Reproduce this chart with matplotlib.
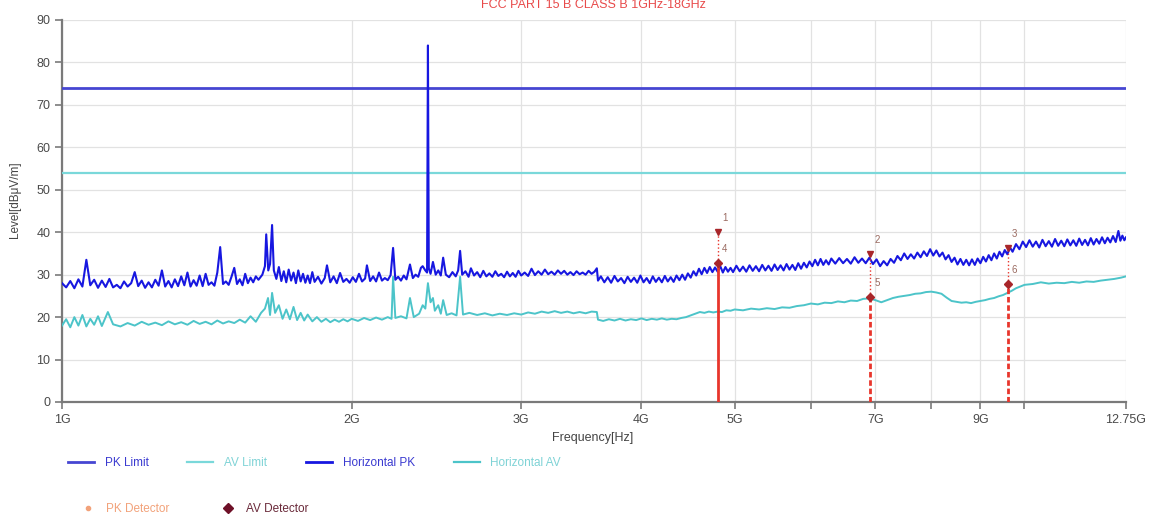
import matplotlib
matplotlib.use("Agg")
import matplotlib.pyplot as plt
from matplotlib.lines import Line2D

plt.rcParams['font.family'] = ['Liberation Sans', 'DejaVu Sans']

# ---------------- data ----------------
limit_freq = [1.0, 12.75]
pk_limit = [74, 74]
av_limit = [54, 54]

pk_freq = [
    1.00, 1.01, 1.02, 1.03, 1.04, 1.05, 1.06, 1.07, 1.08, 1.09,
    1.10, 1.11, 1.12, 1.13, 1.14, 1.15, 1.16, 1.17, 1.18, 1.19,
    1.20, 1.21, 1.22, 1.23, 1.24, 1.25, 1.26, 1.27, 1.28, 1.29,
    1.30, 1.31, 1.32, 1.33, 1.34, 1.35, 1.36, 1.37, 1.38, 1.39,
    1.40, 1.41, 1.42, 1.43, 1.44, 1.45, 1.46, 1.47, 1.48, 1.49,
    1.50, 1.51, 1.52, 1.53, 1.54, 1.55, 1.56, 1.57, 1.58, 1.59,
    1.60, 1.615, 1.625, 1.630, 1.638, 1.645, 1.653, 1.660, 1.670, 1.680,
    1.690, 1.700, 1.710, 1.720, 1.730, 1.740, 1.750, 1.760, 1.770, 1.780,
    1.790, 1.800, 1.810, 1.820, 1.830, 1.845, 1.860, 1.875, 1.885, 1.900,
    1.915, 1.930, 1.945, 1.960, 1.975, 1.990, 2.005, 2.020, 2.035, 2.050,
    2.065, 2.074, 2.090, 2.105, 2.120, 2.135, 2.150, 2.165, 2.180, 2.195,
    2.208, 2.220, 2.235, 2.250, 2.265, 2.280, 2.299, 2.315, 2.330, 2.345,
    2.360, 2.370, 2.385, 2.395, 2.400, 2.405, 2.415, 2.429, 2.445, 2.460,
    2.475, 2.489, 2.505, 2.525, 2.545, 2.565, 2.580, 2.592, 2.605, 2.625,
    2.645, 2.660, 2.680, 2.700, 2.720, 2.740, 2.760, 2.780, 2.800, 2.820,
    2.840, 2.860, 2.880, 2.900, 2.920, 2.940, 2.960, 2.980, 3.000, 3.025,
    3.050, 3.075, 3.100, 3.125, 3.150, 3.175, 3.200, 3.225, 3.250, 3.275,
    3.300, 3.325, 3.350, 3.375, 3.400, 3.425, 3.450, 3.475, 3.500, 3.525,
    3.550, 3.575, 3.595, 3.605, 3.63, 3.66, 3.69, 3.72, 3.75, 3.78,
    3.81, 3.84, 3.87, 3.90, 3.93, 3.96, 3.99, 4.02, 4.05, 4.08,
    4.11, 4.14, 4.17, 4.20, 4.23, 4.26, 4.29, 4.32, 4.35, 4.38,
    4.41, 4.44, 4.47, 4.50, 4.53, 4.56, 4.59, 4.62, 4.65, 4.68,
    4.71, 4.74, 4.77, 4.80, 4.83, 4.86, 4.89, 4.92, 4.95, 4.98,
    5.02, 5.06, 5.10, 5.14, 5.18, 5.22, 5.26, 5.30, 5.34, 5.38,
    5.42, 5.46, 5.50, 5.54, 5.58, 5.62, 5.66, 5.70, 5.74, 5.78,
    5.82, 5.86, 5.90, 5.94, 5.98, 6.02, 6.06, 6.10, 6.14, 6.18,
    6.22, 6.26, 6.30, 6.36, 6.42, 6.48, 6.54, 6.60, 6.66, 6.72,
    6.78, 6.84, 6.90, 6.96, 7.02, 7.08, 7.14, 7.20, 7.26, 7.32,
    7.38, 7.44, 7.50, 7.56, 7.62, 7.68, 7.74, 7.80, 7.86, 7.92,
    7.98, 8.04, 8.10, 8.16, 8.22, 8.28, 8.34, 8.40, 8.46, 8.52,
    8.58, 8.64, 8.70, 8.76, 8.82, 8.88, 8.94, 9.00, 9.06, 9.12,
    9.18, 9.24, 9.30, 9.36, 9.42, 9.48, 9.54, 9.60, 9.66, 9.72,
    9.80, 9.88, 9.96, 10.04, 10.12, 10.20, 10.28, 10.36, 10.44, 10.52,
    10.60, 10.68, 10.76, 10.84, 10.92, 11.00, 11.08, 11.16, 11.24, 11.32,
    11.40, 11.48, 11.56, 11.64, 11.72, 11.80, 11.88, 11.96, 12.04, 12.12,
    12.20, 12.28, 12.36, 12.44, 12.52, 12.58, 12.64, 12.70, 12.75,
]

pk_level = [
    28.0, 27.0, 28.5, 26.8, 28.9, 27.2, 33.5, 27.5, 28.8, 26.9,
    28.6, 27.1, 29.0, 27.0, 27.6, 26.8, 28.4, 27.2, 28.0, 30.6,
    27.3, 28.6, 26.9, 28.2, 27.0, 28.8, 27.4, 31.0, 27.2, 28.5,
    27.0, 28.9, 27.3, 29.6, 27.5, 30.5, 27.2, 28.7, 27.4, 29.8,
    27.3, 30.2, 27.6, 28.2, 27.4, 30.5, 36.5, 27.8, 28.4, 27.6,
    29.5, 31.6, 27.8, 28.9, 27.5, 30.2, 28.0, 29.3, 28.2, 29.6,
    28.8, 30.0, 32.0, 39.5, 31.0, 32.5, 41.7, 31.0, 29.0, 31.8,
    28.5, 30.8, 28.2, 31.2, 28.6, 30.5, 28.0, 31.0, 28.4, 30.2,
    28.1, 29.8, 28.0, 30.6, 28.3, 29.5, 27.9, 29.2, 32.2, 28.2,
    29.6, 28.0, 30.4, 28.3, 29.0, 28.1, 29.4, 28.3, 30.2, 28.4,
    29.1, 32.2, 28.5, 29.6, 28.4, 30.5, 28.6, 29.2, 28.7, 29.9,
    36.3, 28.8, 29.5, 28.6, 29.8, 28.9, 32.4, 29.2, 30.0, 29.5,
    31.6, 32.0, 31.0, 30.5, 84.0, 31.5, 30.2, 33.0, 30.0, 31.0,
    29.8, 34.0, 30.0, 29.4, 30.6, 29.6, 31.0, 35.6, 30.0, 30.8,
    29.5, 31.5, 29.8, 30.6, 29.4, 30.9, 29.6, 30.3, 29.5, 30.8,
    29.7, 30.2, 29.4, 30.7, 29.6, 30.4, 29.5, 30.9, 29.8, 30.5,
    29.7, 31.4, 29.9, 30.8, 30.0, 31.2, 30.1, 30.7, 30.0, 31.0,
    30.2, 30.9, 30.0, 30.6, 29.9, 30.8, 30.1, 30.5, 30.0, 30.9,
    30.2, 30.7, 31.5, 28.6, 29.6, 28.2, 29.4, 28.1, 29.7, 28.4,
    29.2, 28.0, 29.5, 28.3, 29.3, 28.1, 29.8, 28.2, 29.2, 28.0,
    29.6, 28.3, 29.3, 28.2, 29.7, 28.4, 29.4, 28.3, 29.8, 28.7,
    30.0, 28.8, 30.3, 29.3, 30.8, 29.8, 31.4, 30.1, 31.6, 30.4,
    31.8, 30.6, 31.7, 30.7, 32.0, 30.5, 31.8, 30.7, 31.6, 30.6,
    32.1, 30.8, 31.9, 30.7, 32.2, 30.9, 32.0, 30.8, 32.3, 31.0,
    32.1, 30.9, 32.4, 31.1, 32.2, 31.0, 32.5, 31.2, 32.3, 31.1,
    32.7, 31.4, 32.8, 31.7, 33.1, 32.0, 33.5, 32.2, 33.7, 32.3,
    33.4, 32.4, 33.8, 32.6, 33.9, 32.7, 33.7, 32.6, 34.1, 32.8,
    33.8, 32.7, 34.0, 32.5, 33.6, 32.0, 33.2, 32.2, 33.7, 32.8,
    34.4, 33.4, 35.0, 33.7, 34.8, 33.8, 35.2, 34.1, 35.5, 34.4,
    36.0, 34.5, 35.7, 34.3, 35.2, 33.6, 34.6, 33.0, 34.0, 32.4,
    33.7, 32.3, 33.5, 32.2, 33.6, 32.3, 33.8, 32.7, 34.2, 33.1,
    34.6, 33.4, 35.0, 33.8, 35.4, 34.3, 35.8, 34.8, 36.4, 35.4,
    37.2, 36.0, 37.8, 36.5, 38.1, 36.6, 37.8, 36.4, 38.2, 36.7,
    37.9, 36.6, 38.4, 36.8, 38.0, 36.7, 38.3, 36.9, 38.1, 36.8,
    38.5, 37.0, 38.2, 36.9, 38.6, 37.1, 38.4, 37.3, 38.8, 37.4,
    38.7, 37.6, 39.1, 37.7, 40.3, 38.0, 39.2, 38.1, 38.8,
]

av_freq = [
    1.00, 1.01, 1.02, 1.03, 1.04, 1.05, 1.06, 1.07, 1.08, 1.09,
    1.10, 1.116, 1.13, 1.15, 1.17, 1.19, 1.21, 1.23, 1.25, 1.27,
    1.29, 1.31, 1.33, 1.35, 1.37, 1.39, 1.41, 1.43, 1.45, 1.47,
    1.49, 1.51, 1.53, 1.55, 1.57, 1.59, 1.61, 1.625, 1.637, 1.645,
    1.653, 1.665, 1.68, 1.695, 1.71, 1.725, 1.74, 1.755, 1.77, 1.785,
    1.80, 1.82, 1.84, 1.86, 1.88, 1.90, 1.92, 1.94, 1.96, 1.98,
    2.00, 2.03, 2.06, 2.09, 2.12, 2.15, 2.18, 2.20, 2.208, 2.22,
    2.25, 2.28, 2.299, 2.32, 2.35, 2.37, 2.385, 2.40, 2.415, 2.429,
    2.44, 2.46, 2.475, 2.489, 2.51, 2.54, 2.57, 2.592, 2.61, 2.65,
    2.70, 2.75, 2.80, 2.85, 2.90, 2.95, 3.00, 3.05, 3.10, 3.15,
    3.20, 3.25, 3.30, 3.35, 3.40, 3.45, 3.50, 3.55, 3.595, 3.605,
    3.65, 3.70, 3.75, 3.80, 3.85, 3.90, 3.95, 4.00, 4.05, 4.10,
    4.15, 4.20, 4.25, 4.30, 4.35, 4.40, 4.45, 4.50, 4.55, 4.60,
    4.65, 4.70, 4.75, 4.80, 4.85, 4.90, 4.95, 5.00, 5.10, 5.20,
    5.30, 5.40, 5.50, 5.60, 5.70, 5.80, 5.90, 6.00, 6.10, 6.20,
    6.30, 6.40, 6.50, 6.60, 6.70, 6.80, 6.90, 7.00, 7.10, 7.20,
    7.30, 7.40, 7.50, 7.60, 7.70, 7.80, 7.90, 8.00, 8.10, 8.20,
    8.30, 8.40, 8.50, 8.60, 8.70, 8.80, 8.90, 9.00, 9.10, 9.20,
    9.30, 9.40, 9.50, 9.60, 9.70, 9.80, 9.90, 10.00, 10.20, 10.40,
    10.60, 10.80, 11.00, 11.20, 11.40, 11.60, 11.80, 12.00, 12.20, 12.40,
    12.60, 12.75,
]

av_level = [
    18.0, 19.5, 17.6, 20.0, 18.0, 20.5, 17.8, 19.6, 18.2, 20.2,
    17.9, 21.2, 18.3, 17.8, 18.6, 18.0, 18.9, 18.2, 18.7, 18.1,
    19.0, 18.3, 18.8, 18.2, 19.1, 18.4, 18.9, 18.3, 19.2, 18.5,
    19.0, 18.6, 19.4, 18.7, 20.2, 18.9, 21.0, 22.0, 24.5, 20.5,
    25.7, 21.0, 22.8, 19.6, 21.8, 19.5, 22.4, 19.3, 21.0, 19.2,
    20.6, 19.0, 20.0, 18.9, 19.6, 18.8, 19.4, 18.9, 19.5, 19.0,
    19.6, 19.1, 19.8, 19.3, 19.9, 19.4, 20.0, 19.6, 29.5, 19.8,
    20.2, 19.7, 24.5, 20.0, 20.8, 22.8, 22.0, 28.0, 23.5, 24.5,
    21.5, 22.8, 20.8, 24.0, 20.5, 20.9, 20.4, 29.5, 20.6, 21.0,
    20.5, 20.9, 20.4, 20.8, 20.5, 20.9, 20.6, 21.1, 20.8, 21.3,
    21.0, 21.4, 21.0, 21.3, 20.9, 21.2, 20.9, 21.3, 21.2, 19.4,
    19.1, 19.5, 19.2, 19.6, 19.2, 19.5, 19.3, 19.7, 19.3, 19.6,
    19.4, 19.7, 19.4, 19.6, 19.5, 19.8, 20.0, 20.4, 20.8, 21.2,
    21.0, 21.3, 21.1, 21.3, 21.2, 21.6, 21.5, 21.8, 21.6, 22.0,
    21.8, 22.1, 21.9, 22.3, 22.2, 22.6, 22.8, 23.2, 23.0, 23.4,
    23.3, 23.7, 23.5, 23.9, 23.8, 24.3, 24.4, 24.0, 23.5, 24.0,
    24.5, 24.8, 25.0, 25.2, 25.5, 25.6, 25.9, 26.0, 25.8, 25.5,
    24.6, 23.8, 23.6, 23.4, 23.5, 23.3, 23.6, 23.8, 24.0, 24.3,
    24.5, 24.9, 25.2, 25.7, 26.2, 26.8, 27.2, 27.6, 27.8, 28.2,
    27.9, 28.1, 28.0, 28.3, 28.1, 28.4, 28.3, 28.6, 28.8, 29.0,
    29.3, 29.6,
]

marker_freq = [4.80, 6.91, 9.61]
marker_pk = [40.0, 34.9, 36.3]
marker_av = [32.8, 24.7, 27.8]
marker_pk_labels = ['1', '2', '3']
marker_av_labels = ['4', '5', '6']

x_ticks = [1, 2, 3, 4, 5, 6, 7, 8, 9, 10, 12.75]
x_tick_labels = ['1G', '2G', '3G', '4G', '5G', '', '7G', '', '9G', '', '12.75G']
y_ticks = [0, 10, 20, 30, 40, 50, 60, 70, 80, 90]

# ---------------- colours ----------------
c_pk_limit = '#4646d2'
c_av_limit = '#7ad8da'
c_pk = '#1717e0'
c_av = '#4cc4c9'
c_red = '#e8352c'
c_mark = '#a8262a'

# ---------------- figure ----------------
fig = plt.figure(figsize=(11.53, 5.15), dpi=100)
ax = fig.add_axes([62 / 1153, 1 - 402 / 515, (1126 - 62) / 1153, (402 - 20) / 515])

ax.plot(limit_freq, pk_limit, color=c_pk_limit, lw=2.0, zorder=3)
ax.plot(limit_freq, av_limit, color=c_av_limit, lw=1.6, zorder=3)
ax.plot(av_freq, av_level, color=c_av, lw=1.4, zorder=4)
ax.plot(pk_freq, pk_level, color=c_pk, lw=1.5, zorder=5)

for i, (f, p, a) in enumerate(zip(marker_freq, marker_pk, marker_av)):
    ls = '-' if i == 0 else (0, (2, 1))
    ax.plot([f, f], [0, a], color=c_red, lw=2.0, ls=ls, zorder=6)
    ax.plot([f, f], [a, p], color=c_red, lw=1.0, ls=':', zorder=6)
    ax.plot([f], [p], marker='v', ms=5, color=c_mark, zorder=7, ls='none')
    ax.plot([f], [a], marker='D', ms=4, color=c_mark, zorder=7, ls='none')
    ax.annotate(marker_pk_labels[i], (f, p), xytext=(3, 8), textcoords='offset points',
                fontsize=7, color='#9a6a60')
    ax.annotate(marker_av_labels[i], (f, a), xytext=(3, 8), textcoords='offset points',
                fontsize=7, color='#9a6a60')

ax.set_xscale('log')
ax.set_xlim(1, 12.75)
ax.set_ylim(0, 90)
ax.set_xticks(x_ticks)
ax.set_xticklabels(x_tick_labels)
ax.xaxis.set_minor_locator(matplotlib.ticker.NullLocator())
ax.set_yticks(y_ticks)

ax.grid(True, color='#e2e2e2', lw=0.9, zorder=0)
ax.set_axisbelow(True)
for s in ['top', 'right']:
    ax.spines[s].set_visible(False)
for s in ['left', 'bottom']:
    ax.spines[s].set_color('#7a7a7a')
    ax.spines[s].set_linewidth(1.6)
ax.tick_params(axis='both', direction='out', length=5, width=1.2, color='#7a7a7a',
               labelsize=9, labelcolor='#4a4a4a')

fig.text(15 / 1153, 1 - 200 / 515, 'Level[dBμV/m]', rotation=90, ha='center', va='center',
         fontsize=8.5, color='#444444')
fig.text(593 / 1153, 1 - 438 / 515, 'Frequency[Hz]', ha='center', va='center',
         fontsize=9, color='#444444')
fig.text(593 / 1153, 1 - 5 / 515, 'FCC PART 15 B CLASS B 1GHz-18GHz', ha='center', va='center',
         fontsize=9, color='#e84a4a')

# legends
h1 = [Line2D([], [], color=c_pk_limit, lw=2),
      Line2D([], [], color=c_av_limit, lw=1.6),
      Line2D([], [], color=c_pk, lw=2),
      Line2D([], [], color=c_av, lw=1.6)]
l1 = ['PK Limit', 'AV Limit', 'Horizontal PK', 'Horizontal AV']
leg1 = fig.legend(h1, l1, loc='center left', bbox_to_anchor=(68 / 1153, 1 - 463 / 515),
                  ncol=4, frameon=False, fontsize=8.5, handlelength=2.2, handletextpad=0.9,
                  columnspacing=3.3, borderaxespad=0, borderpad=0)
for t, c in zip(leg1.get_texts(), ['#3a3ad0', '#7fd3d6', '#3a3ad0', '#7fd3d6']):
    t.set_color(c)

h2 = [Line2D([], [], color='#f2a27a', marker='o', ms=3, ls='none'),
      Line2D([], [], color='#6e1028', marker='D', ms=5, ls='none')]
l2 = ['PK Detector', 'AV Detector']
leg2 = fig.legend(h2, l2, loc='center left', bbox_to_anchor=(76 / 1153, 1 - 509 / 515),
                  ncol=2, frameon=False, fontsize=8.5, handlelength=2.0, handletextpad=0.5,
                  columnspacing=4.0, borderaxespad=0, borderpad=0)
for t, c in zip(leg2.get_texts(), ['#f2a27a', '#6a2a3a']):
    t.set_color(c)

fig.savefig('out.png', dpi=100)
